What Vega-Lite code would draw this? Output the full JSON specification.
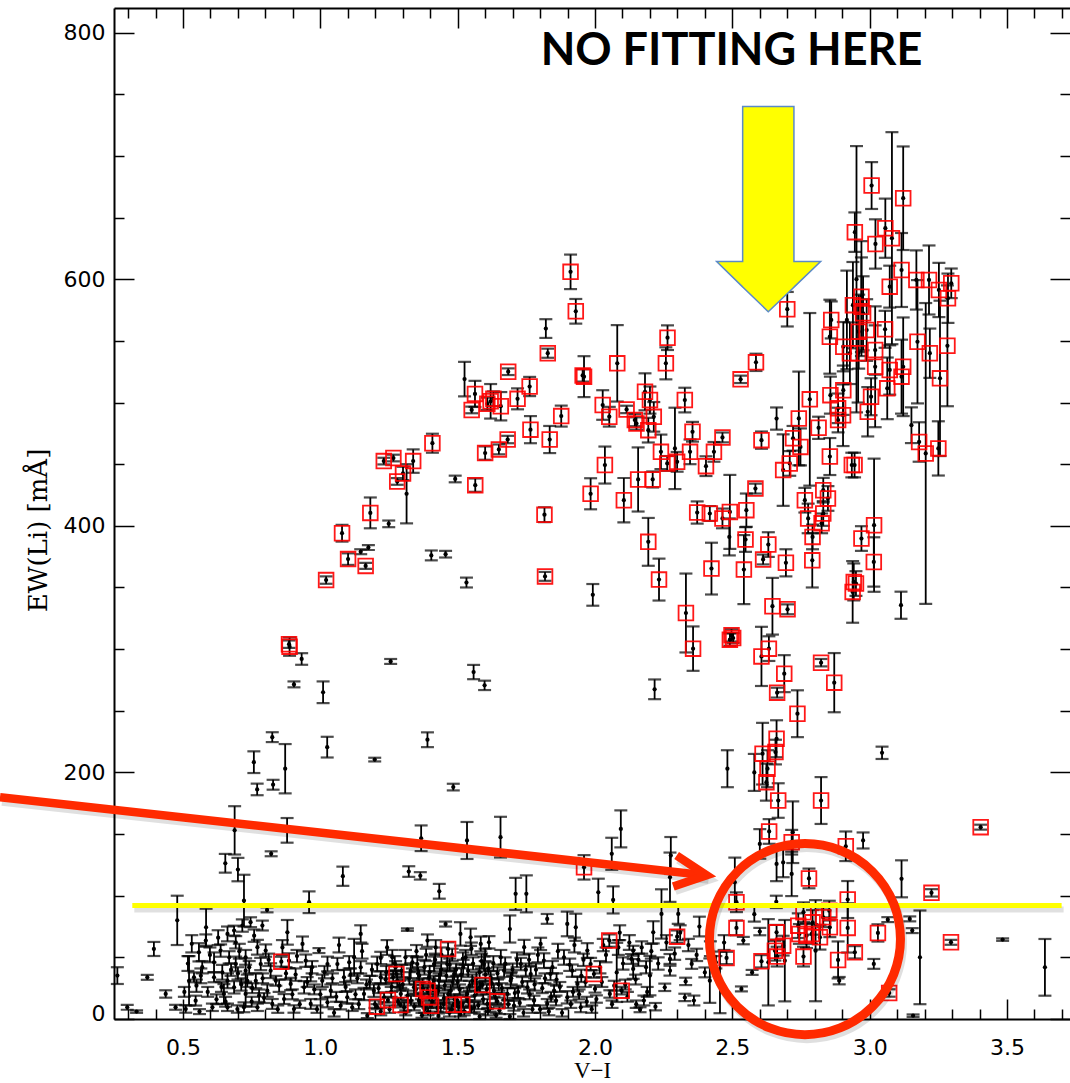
{
"$schema":"https://vega.github.io/schema/vega-lite/v6.json",
"width":956,"height":1011,"autosize":"none",
"padding":{"left":114,"top":8,"right":0,"bottom":64},
"background":"white",
"config":{"view":{"stroke":null},"axis":{"grid":false,"tickColor":"black","domainColor":"black","labelColor":"black","titleColor":"black","tickWidth":1.5,"domainWidth":2}},
"datasets":{
"pts":[
{"x":1.911,"y":606,"e":14,"r":1},{"x":1.93,"y":574,"e":10,"r":1},{"x":1.821,"y":560,"e":7.6,"r":0},{"x":1.828,"y":540,"e":3.7,"r":1},{"x":1.684,"y":525,"e":2.7,"r":1},{"x":1.525,"y":519,"e":14,"r":0},{"x":1.563,"y":507,"e":10.6,"r":1},{"x":1.551,"y":494,"e":2.7,"r":1},{"x":1.62,"y":501,"e":14,"r":1},{"x":1.608,"y":499,"e":5,"r":1},{"x":1.63,"y":503,"e":6,"r":1},{"x":1.657,"y":497,"e":11.5,"r":1},{"x":1.718,"y":503,"e":8.5,"r":1},{"x":1.762,"y":513,"e":7.8,"r":1},{"x":1.96,"y":521,"e":16.6,"r":1},{"x":1.955,"y":522,"e":5,"r":1},{"x":1.877,"y":489,"e":8.5,"r":1},{"x":1.765,"y":478,"e":11,"r":1},{"x":1.835,"y":470,"e":11,"r":1},{"x":1.682,"y":470,"e":3,"r":1},{"x":1.65,"y":462,"e":4,"r":1},{"x":1.6,"y":459,"e":5.4,"r":1},{"x":1.408,"y":467,"e":7.7,"r":1},{"x":1.338,"y":452.5,"e":9.5,"r":1},{"x":1.266,"y":455,"e":2.7,"r":1},{"x":1.231,"y":452.5,"e":2.7,"r":1},{"x":1.301,"y":442.5,"e":5.4,"r":1},{"x":1.28,"y":436,"e":2.7,"r":1},{"x":1.314,"y":426,"e":24,"r":0},{"x":1.491,"y":438,"e":2.7,"r":0},{"x":1.564,"y":433,"e":5.4,"r":1},{"x":1.182,"y":410.5,"e":12.5,"r":1},{"x":1.249,"y":401.6,"e":2.7,"r":0},{"x":1.079,"y":394,"e":6.8,"r":1},{"x":1.175,"y":382.4,"e":2,"r":0},{"x":1.147,"y":379,"e":2,"r":0},{"x":1.101,"y":373,"e":4.7,"r":1},{"x":1.165,"y":367.5,"e":2.4,"r":1},{"x":1.021,"y":356,"e":3,"r":1},{"x":1.404,"y":376,"e":4,"r":0},{"x":1.456,"y":377,"e":2.7,"r":0},{"x":1.532,"y":354,"e":4,"r":0},{"x":1.816,"y":409,"e":6,"r":1},{"x":1.818,"y":359,"e":3.6,"r":1},{"x":1.984,"y":426,"e":12.6,"r":1},{"x":1.992,"y":344,"e":8.8,"r":0},{"x":0.888,"y":302,"e":7.4,"r":1},{"x":0.886,"y":304,"e":3,"r":1},{"x":0.932,"y":292,"e":4.7,"r":0},{"x":0.904,"y":271.4,"e":2.4,"r":0},{"x":1.01,"y":265,"e":8.8,"r":0},{"x":1.256,"y":290,"e":2,"r":0},{"x":1.558,"y":281.4,"e":5.8,"r":0},{"x":1.598,"y":270.6,"e":3.8,"r":0},
{"x":0.825,"y":228.6,"e":4,"r":0},{"x":0.758,"y":208.3,"e":8.8,"r":0},{"x":0.77,"y":186.2,"e":4.7,"r":0},{"x":0.828,"y":190,"e":4,"r":0},{"x":0.872,"y":203,"e":20,"r":0},{"x":1.025,"y":220.5,"e":8.4,"r":0},{"x":1.198,"y":210.4,"e":1.5,"r":0},{"x":1.39,"y":226.5,"e":6,"r":0},{"x":1.484,"y":188.1,"e":2.7,"r":0},{"x":0.688,"y":153,"e":19.6,"r":0},{"x":0.879,"y":153,"e":10,"r":0},{"x":0.654,"y":126.3,"e":7.6,"r":0},{"x":0.7,"y":121.2,"e":9.5,"r":0},{"x":0.821,"y":134,"e":2,"r":0},{"x":1.082,"y":115.8,"e":7.8,"r":0},{"x":1.367,"y":146.6,"e":10.4,"r":0},{"x":1.534,"y":144.8,"e":15,"r":0},{"x":1.656,"y":147.5,"e":16.5,"r":0},{"x":1.96,"y":123,"e":9.9,"r":1},{"x":1.322,"y":119.6,"e":4.3,"r":0},{"x":1.364,"y":116.1,"e":3,"r":0},{"x":1.433,"y":103.6,"e":6,"r":0},{"x":0.722,"y":96,"e":21,"r":0},
{"x":0.479,"y":80,"e":20,"r":0},{"x":0.584,"y":74.4,"e":15,"r":0},{"x":0.394,"y":56.8,"e":5.7,"r":0},{"x":0.37,"y":33.8,"e":2,"r":0},{"x":0.437,"y":20.3,"e":3,"r":0},{"x":0.331,"y":6,"e":1,"r":0},{"x":0.959,"y":94.7,"e":8.8,"r":0},{"x":0.806,"y":88.5,"e":2,"r":0},{"x":1.711,"y":101.5,"e":13,"r":0},{"x":1.75,"y":101.5,"e":15,"r":0},{"x":1.826,"y":81.2,"e":4,"r":0},{"x":1.69,"y":73,"e":11,"r":0},{"x":1.93,"y":74.4,"e":11,"r":0},{"x":1.317,"y":72.5,"e":1,"r":0},{"x":1.456,"y":77,"e":2,"r":0},{"x":1.51,"y":69,"e":9.5,"r":0},
{"x":0.261,"y":35.2,"e":6.8,"r":0},{"x":0.297,"y":9.5,"e":2,"r":0},{"x":0.473,"y":9.5,"e":2,"r":0},{"x":0.522,"y":31,"e":20,"r":0},{"x":0.54,"y":33.8,"e":4,"r":0},{"x":0.51,"y":8.1,"e":3,"r":0},{"x":0.546,"y":14.9,"e":4,"r":0},{"x":0.558,"y":54.1,"e":7.4,"r":0},{"x":0.583,"y":63.6,"e":5,"r":0},{"x":0.613,"y":46,"e":8,"r":0},{"x":0.613,"y":33.8,"e":4,"r":0},{"x":0.607,"y":9.5,"e":3,"r":0},{"x":0.637,"y":55.5,"e":5,"r":0},{"x":0.643,"y":37.9,"e":6,"r":0},{"x":0.649,"y":20.3,"e":8,"r":0},{"x":0.662,"y":69,"e":6,"r":0},{"x":0.668,"y":50,"e":5,"r":0},{"x":0.662,"y":31,"e":6,"r":0},{"x":0.662,"y":9.5,"e":3,"r":0},{"x":0.686,"y":71.7,"e":4,"r":0},{"x":0.692,"y":62.2,"e":5,"r":0},{"x":0.692,"y":44.6,"e":6,"r":0},{"x":0.686,"y":25.7,"e":5,"r":0},{"x":0.698,"y":8.1,"e":3,"r":0},{"x":0.716,"y":75.8,"e":5,"r":0},{"x":0.728,"y":50,"e":6,"r":0},{"x":0.728,"y":39.2,"e":10,"r":0},{"x":0.734,"y":31,"e":5,"r":0},{"x":0.728,"y":20.3,"e":10,"r":0},{"x":0.722,"y":9.5,"e":4,"r":0},{"x":0.746,"y":78.5,"e":4,"r":0},{"x":0.759,"y":67.6,"e":5,"r":0},{"x":0.771,"y":58.2,"e":6,"r":0},{"x":0.783,"y":44.6,"e":5,"r":0},{"x":0.765,"y":31,"e":6,"r":0},{"x":0.777,"y":18.9,"e":5,"r":0},{"x":0.771,"y":9.5,"e":3,"r":0},{"x":0.789,"y":75.8,"e":4,"r":0},{"x":0.801,"y":55.5,"e":5,"r":0},{"x":0.819,"y":39.2,"e":6,"r":0},{"x":0.807,"y":23,"e":5,"r":0},{"x":0.825,"y":12.2,"e":4,"r":0},{"x":0.88,"y":70.3,"e":10,"r":0},{"x":0.886,"y":47.3,"e":6,"r":0},{"x":0.892,"y":28.4,"e":5,"r":0},{"x":0.868,"y":16.2,"e":4,"r":0},{"x":0.904,"y":8.1,"e":3,"r":0},{"x":0.935,"y":60.9,"e":6,"r":0},{"x":0.947,"y":47.3,"e":5,"r":0},{"x":0.965,"y":36.5,"e":6,"r":0},{"x":0.941,"y":25.7,"e":5,"r":0},{"x":0.965,"y":12.2,"e":4,"r":0},{"x":0.995,"y":55.5,"e":2,"r":0},{"x":1.026,"y":44.6,"e":6,"r":0},{"x":1.007,"y":31,"e":5,"r":0},{"x":1.026,"y":13.5,"e":4,"r":0},{"x":1.038,"y":23,"e":5,"r":0},{"x":1.062,"y":44.6,"e":5,"r":0},{"x":1.086,"y":33.8,"e":6,"r":0},{"x":1.098,"y":17.6,"e":5,"r":0},{"x":1.074,"y":10.8,"e":3,"r":0},{"x":1.116,"y":9.5,"e":3,"r":0},{"x":1.123,"y":50,"e":15,"r":0},{"x":1.147,"y":69,"e":7,"r":0},{"x":1.147,"y":41.9,"e":5,"r":0},{"x":1.159,"y":20.3,"e":5,"r":0},{"x":1.171,"y":2.7,"e":2,"r":0},{"x":1.207,"y":44.6,"e":6,"r":0},{"x":1.22,"y":33.8,"e":5,"r":0},{"x":1.195,"y":23,"e":5,"r":0},{"x":1.232,"y":17.6,"e":4,"r":0},{"x":1.22,"y":49.5,"e":5,"r":0},{"x":1.262,"y":50,"e":6,"r":0},{"x":1.28,"y":31,"e":5,"r":0},{"x":1.293,"y":20.3,"e":5,"r":0},{"x":1.305,"y":9.5,"e":4,"r":0},{"x":1.274,"y":41.9,"e":5,"r":0},{"x":1.329,"y":39.2,"e":6,"r":0},{"x":1.341,"y":25.7,"e":5,"r":0},{"x":1.353,"y":44.6,"e":6,"r":0},{"x":1.359,"y":14.9,"e":4,"r":0},{"x":1.39,"y":63.6,"e":5,"r":0},{"x":1.414,"y":44.6,"e":6,"r":0},{"x":1.396,"y":33.8,"e":5,"r":0},{"x":1.432,"y":31,"e":6,"r":0},{"x":1.42,"y":20.3,"e":5,"r":0},{"x":1.438,"y":9.5,"e":4,"r":0},{"x":1.462,"y":44.6,"e":6,"r":0},{"x":1.487,"y":36.5,"e":5,"r":0},{"x":1.475,"y":23,"e":5,"r":0},{"x":1.499,"y":14.9,"e":4,"r":0},{"x":1.547,"y":66.3,"e":7,"r":0},{"x":1.529,"y":50,"e":6,"r":0},{"x":1.553,"y":31,"e":5,"r":0},{"x":1.535,"y":20.3,"e":5,"r":0},{"x":1.56,"y":9.5,"e":4,"r":0},{"x":1.584,"y":60.9,"e":6,"r":0},{"x":1.614,"y":62.2,"e":5,"r":0},{"x":1.596,"y":44.6,"e":6,"r":0},{"x":1.62,"y":33.8,"e":5,"r":0},{"x":1.632,"y":23,"e":5,"r":0},{"x":1.608,"y":12.2,"e":4,"r":0},{"x":1.657,"y":50,"e":6,"r":0},{"x":1.669,"y":39.2,"e":5,"r":0},{"x":1.693,"y":31,"e":6,"r":0},{"x":1.681,"y":20.3,"e":5,"r":0},{"x":1.705,"y":10.8,"e":4,"r":0},{"x":1.742,"y":58.2,"e":6,"r":0},{"x":1.73,"y":44.6,"e":5,"r":0},{"x":1.766,"y":36.5,"e":6,"r":0},{"x":1.754,"y":25.7,"e":5,"r":0},{"x":1.778,"y":14.9,"e":4,"r":0},{"x":1.802,"y":60.9,"e":5,"r":0},{"x":1.814,"y":47.3,"e":6,"r":0},{"x":1.838,"y":36.5,"e":5,"r":0},{"x":1.851,"y":23,"e":5,"r":0},{"x":1.826,"y":12.2,"e":4,"r":0},{"x":1.899,"y":77.1,"e":10,"r":0},{"x":1.887,"y":50,"e":6,"r":0},{"x":1.917,"y":39.2,"e":5,"r":0},{"x":1.936,"y":28.4,"e":6,"r":0},{"x":1.899,"y":17.6,"e":5,"r":0},{"x":1.948,"y":9.5,"e":4,"r":0},{"x":1.972,"y":55.5,"e":6,"r":0},{"x":1.984,"y":44.6,"e":5,"r":0},
{"x":1.3,"y":28,"e":4,"r":0},{"x":1.33,"y":15,"e":4,"r":0},{"x":1.36,"y":35,"e":5,"r":0},{"x":1.38,"y":8,"e":3,"r":0},{"x":1.41,"y":27,"e":5,"r":0},{"x":1.44,"y":40,"e":5,"r":0},{"x":1.45,"y":17,"e":4,"r":0},{"x":1.47,"y":5,"e":3,"r":0},{"x":1.5,"y":30,"e":5,"r":0},{"x":1.52,"y":42,"e":6,"r":0},{"x":1.54,"y":14,"e":4,"r":0},{"x":1.57,"y":24,"e":5,"r":0},{"x":1.58,"y":38,"e":5,"r":0},{"x":1.61,"y":6,"e":3,"r":0},{"x":1.63,"y":45,"e":6,"r":0},{"x":1.65,"y":28,"e":5,"r":0},{"x":1.67,"y":16,"e":4,"r":0},{"x":1.7,"y":40,"e":5,"r":0},{"x":1.72,"y":22,"e":5,"r":0},{"x":1.74,"y":5,"e":3,"r":0},{"x":1.26,"y":26,"e":4,"r":0},{"x":1.24,"y":38,"e":5,"r":0},{"x":1.22,"y":6,"e":3,"r":0},{"x":1.18,"y":30,"e":5,"r":0},{"x":1.14,"y":12,"e":4,"r":0},{"x":1.11,"y":36,"e":5,"r":0},{"x":1.05,"y":5,"e":3,"r":0},{"x":1.0,"y":20,"e":4,"r":0},{"x":0.97,"y":42,"e":5,"r":0},{"x":0.91,"y":36,"e":5,"r":0},{"x":0.85,"y":27,"e":5,"r":0},{"x":0.79,"y":33,"e":4,"r":0},{"x":0.75,"y":14,"e":4,"r":0},{"x":0.7,"y":37,"e":5,"r":0},{"x":0.64,"y":26,"e":4,"r":0},{"x":0.59,"y":22,"e":4,"r":0},{"x":0.57,"y":42,"e":5,"r":0},{"x":0.56,"y":6,"e":2,"r":0},{"x":1.35,"y":55,"e":5,"r":0},{"x":1.42,"y":58,"e":6,"r":0},{"x":1.48,"y":52,"e":5,"r":0},{"x":1.55,"y":57,"e":5,"r":0},{"x":1.6,"y":52,"e":5,"r":0},{"x":1.31,"y":50,"e":6,"r":0},{"x":1.37,"y":3,"e":2,"r":0},{"x":1.43,"y":2.5,"e":2,"r":0},{"x":1.51,"y":4,"e":2,"r":0},{"x":1.58,"y":2,"e":2,"r":0},{"x":1.64,"y":3,"e":2,"r":0},{"x":1.69,"y":2,"e":2,"r":0},{"x":1.78,"y":28,"e":5,"r":0},{"x":1.8,"y":8,"e":3,"r":0},{"x":1.86,"y":32,"e":5,"r":0},{"x":1.88,"y":5,"e":3,"r":0},{"x":1.92,"y":22,"e":4,"r":0},{"x":1.95,"y":35,"e":5,"r":0},{"x":1.97,"y":14,"e":4,"r":0},{"x":1.84,"y":18,"e":4,"r":0},{"x":1.76,"y":48,"e":5,"r":0},
{"x":1.252,"y":8,"e":3,"r":0},{"x":1.258,"y":22,"e":4,"r":0},{"x":1.265,"y":34,"e":5,"r":0},{"x":1.271,"y":45,"e":6,"r":0},{"x":1.283,"y":14,"e":3,"r":0},{"x":1.289,"y":27,"e":4,"r":0},{"x":1.296,"y":39,"e":5,"r":0},{"x":1.311,"y":5,"e":2,"r":0},{"x":1.318,"y":19,"e":4,"r":0},{"x":1.324,"y":33,"e":5,"r":0},{"x":1.335,"y":46,"e":5,"r":0},{"x":1.342,"y":10,"e":3,"r":0},{"x":1.348,"y":24,"e":4,"r":0},{"x":1.356,"y":37,"e":5,"r":0},{"x":1.368,"y":13,"e":3,"r":0},{"x":1.372,"y":29,"e":4,"r":0},{"x":1.379,"y":42,"e":6,"r":0},{"x":1.385,"y":52,"e":5,"r":0},{"x":1.392,"y":6,"e":3,"r":0},{"x":1.398,"y":38,"e":5,"r":0},{"x":1.407,"y":14,"e":4,"r":0},{"x":1.413,"y":31,"e":4,"r":0},{"x":1.418,"y":48,"e":5,"r":0},{"x":1.426,"y":9,"e":3,"r":0},{"x":1.429,"y":23,"e":4,"r":0},{"x":1.436,"y":36,"e":5,"r":0},{"x":1.441,"y":52,"e":6,"r":0},{"x":1.449,"y":12,"e":3,"r":0},{"x":1.453,"y":27,"e":4,"r":0},{"x":1.459,"y":35,"e":5,"r":0},{"x":1.466,"y":20,"e":4,"r":0},{"x":1.471,"y":44,"e":5,"r":0},{"x":1.478,"y":8,"e":3,"r":0},{"x":1.482,"y":30,"e":4,"r":0},{"x":1.489,"y":16,"e":4,"r":0},{"x":1.494,"y":40,"e":5,"r":0},{"x":1.503,"y":10,"e":3,"r":0},{"x":1.507,"y":24,"e":4,"r":0},{"x":1.513,"y":36,"e":5,"r":0},{"x":1.519,"y":49,"e":5,"r":0},{"x":1.524,"y":6,"e":3,"r":0},{"x":1.531,"y":18,"e":4,"r":0},{"x":1.538,"y":39,"e":5,"r":0},{"x":1.543,"y":27,"e":4,"r":0},{"x":1.549,"y":8,"e":3,"r":0},{"x":1.556,"y":45,"e":5,"r":0},{"x":1.562,"y":19,"e":4,"r":0},{"x":1.568,"y":33,"e":5,"r":0},{"x":1.575,"y":11,"e":3,"r":0},{"x":1.581,"y":26,"e":4,"r":0},{"x":1.587,"y":47,"e":6,"r":0},{"x":1.593,"y":16,"e":4,"r":0},{"x":1.601,"y":36,"e":5,"r":0},{"x":1.606,"y":24,"e":4,"r":0},{"x":1.612,"y":41,"e":5,"r":0},{"x":1.618,"y":9,"e":3,"r":0},{"x":1.624,"y":29,"e":4,"r":0},{"x":1.638,"y":17,"e":4,"r":0},{"x":1.645,"y":37,"e":5,"r":0},{"x":1.652,"y":7,"e":3,"r":0},{"x":1.661,"y":25,"e":4,"r":0},{"x":1.673,"y":45,"e":5,"r":0},{"x":1.684,"y":12,"e":3,"r":0},{"x":1.695,"y":33,"e":5,"r":0},{"x":1.708,"y":21,"e":4,"r":0},{"x":1.716,"y":48,"e":6,"r":0},{"x":1.726,"y":13,"e":3,"r":0},{"x":1.735,"y":30,"e":4,"r":0},{"x":1.748,"y":40,"e":5,"r":0},{"x":1.762,"y":20,"e":4,"r":0},{"x":1.772,"y":8,"e":3,"r":0},
{"x":0.505,"y":22,"e":4,"r":0},{"x":0.518,"y":45,"e":6,"r":0},{"x":0.532,"y":61,"e":7,"r":0},{"x":0.549,"y":27,"e":5,"r":0},{"x":0.565,"y":35,"e":6,"r":0},{"x":0.598,"y":52,"e":6,"r":0},{"x":0.622,"y":16,"e":4,"r":0},{"x":0.628,"y":66,"e":6,"r":0},{"x":0.655,"y":14,"e":4,"r":0},{"x":0.675,"y":40,"e":5,"r":0},{"x":0.705,"y":55,"e":6,"r":0},{"x":0.712,"y":28,"e":5,"r":0},{"x":0.741,"y":42,"e":5,"r":0},{"x":0.752,"y":25,"e":4,"r":0},{"x":0.795,"y":17,"e":4,"r":0},{"x":0.812,"y":48,"e":5,"r":0},{"x":0.838,"y":31,"e":4,"r":0},{"x":0.845,"y":8,"e":3,"r":0},{"x":0.862,"y":58,"e":6,"r":0},{"x":0.875,"y":37,"e":5,"r":0},{"x":0.898,"y":20,"e":4,"r":0},{"x":0.915,"y":51,"e":5,"r":0},{"x":0.925,"y":12,"e":3,"r":0},{"x":0.952,"y":30,"e":4,"r":0},{"x":0.978,"y":24,"e":4,"r":0},{"x":0.988,"y":8,"e":3,"r":0},{"x":1.015,"y":38,"e":5,"r":0},{"x":1.044,"y":33,"e":4,"r":0},{"x":1.058,"y":18,"e":4,"r":0},{"x":1.068,"y":60,"e":6,"r":0},{"x":1.092,"y":26,"e":4,"r":0},{"x":1.105,"y":46,"e":5,"r":0},{"x":1.128,"y":20,"e":4,"r":0},{"x":1.135,"y":33,"e":4,"r":0},{"x":1.152,"y":55,"e":6,"r":0},{"x":1.168,"y":28,"e":4,"r":0},{"x":1.188,"y":40,"e":5,"r":0},{"x":1.199,"y":12,"e":3,"r":0},{"x":1.212,"y":25,"e":4,"r":0},{"x":1.238,"y":32,"e":4,"r":0},{"x":1.243,"y":58,"e":6,"r":0},
{"x":1.785,"y":40,"e":5,"r":0},{"x":1.792,"y":52,"e":6,"r":0},{"x":1.808,"y":25,"e":4,"r":0},{"x":1.818,"y":33,"e":4,"r":0},{"x":1.832,"y":6,"e":3,"r":0},{"x":1.845,"y":42,"e":5,"r":0},{"x":1.858,"y":15,"e":4,"r":0},{"x":1.865,"y":55,"e":6,"r":0},{"x":1.872,"y":26,"e":4,"r":0},{"x":1.908,"y":44,"e":5,"r":0},{"x":1.912,"y":12,"e":3,"r":0},{"x":1.925,"y":60,"e":6,"r":0},{"x":1.942,"y":20,"e":4,"r":0},{"x":1.958,"y":48,"e":5,"r":0},{"x":1.965,"y":30,"e":4,"r":0},{"x":1.988,"y":8,"e":3,"r":0},{"x":2.018,"y":42,"e":5,"r":0},{"x":2.025,"y":30,"e":4,"r":0},{"x":2.04,"y":52,"e":6,"r":0},{"x":2.062,"y":12,"e":3,"r":0},{"x":2.07,"y":27,"e":4,"r":0},{"x":2.085,"y":58,"e":6,"r":0},{"x":2.102,"y":45,"e":5,"r":0},{"x":2.118,"y":18,"e":4,"r":0},{"x":2.125,"y":62,"e":6,"r":0},{"x":2.148,"y":32,"e":4,"r":0},{"x":2.158,"y":48,"e":5,"r":0},{"x":2.178,"y":15,"e":4,"r":0},{"x":2.186,"y":42,"e":5,"r":0},{"x":2.205,"y":55,"e":6,"r":0},
{"x":2.066,"y":96.6,"e":11,"r":0},{"x":2.012,"y":102.8,"e":11,"r":0},{"x":2.273,"y":115,"e":20,"r":0},{"x":2.0,"y":24.4,"e":3,"r":0},{"x":2.054,"y":20.3,"e":3,"r":0},{"x":2.005,"y":16.2,"e":3,"r":0},{"x":2.164,"y":7.5,"e":2,"r":0},{"x":2.33,"y":30.5,"e":3,"r":0},{"x":2.327,"y":17.5,"e":3,"r":0},{"x":2.418,"y":31.1,"e":18,"r":0},{"x":2.455,"y":29.7,"e":25,"r":0},{"x":2.2,"y":35.2,"e":16,"r":0},{"x":2.139,"y":40.6,"e":8,"r":0},{"x":2.079,"y":37.8,"e":24,"r":0},{"x":2.133,"y":48.7,"e":4,"r":0},{"x":2.212,"y":70.3,"e":9,"r":0},{"x":2.242,"y":85.2,"e":20,"r":0},{"x":2.303,"y":85.2,"e":8,"r":0},{"x":2.139,"y":55.4,"e":4,"r":0},{"x":2.273,"y":48.7,"e":4,"r":0},{"x":2.273,"y":39.2,"e":4,"r":0},{"x":2.352,"y":44.7,"e":4,"r":0},{"x":2.4,"y":37.8,"e":4,"r":0},{"x":2.254,"y":25.7,"e":3,"r":0},{"x":2.03,"y":60,"e":5,"r":0},{"x":2.09,"y":70,"e":6,"r":0},{"x":2.11,"y":28,"e":4,"r":0},{"x":2.17,"y":58,"e":5,"r":0},{"x":2.19,"y":22,"e":4,"r":0},{"x":2.23,"y":45,"e":5,"r":0},{"x":2.26,"y":62,"e":6,"r":0},{"x":2.29,"y":53,"e":5,"r":0},{"x":2.31,"y":70,"e":6,"r":0},{"x":2.34,"y":60,"e":5,"r":0},{"x":2.37,"y":52,"e":5,"r":0},{"x":2.38,"y":75,"e":8,"r":0},{"x":2.42,"y":57,"e":6,"r":0},{"x":2.44,"y":46,"e":5,"r":0},{"x":2.47,"y":62,"e":6,"r":0},{"x":2.15,"y":12,"e":3,"r":0},{"x":2.22,"y":10,"e":3,"r":0},{"x":2.36,"y":15,"e":4,"r":0},
{"x":2.509,"y":110.9,"e":20,"r":0},{"x":3.183,"y":50,"e":38,"r":0},{"x":3.638,"y":41.9,"e":23,"r":0},{"x":3.484,"y":64.4,"e":1,"r":0},{"x":3.146,"y":81.2,"e":2,"r":0},{"x":3.155,"y":71.7,"e":2,"r":0},{"x":3.066,"y":80.6,"e":2,"r":0},{"x":3.015,"y":44.7,"e":4,"r":0},{"x":3.158,"y":2.7,"e":1,"r":0},{"x":2.889,"y":31.1,"e":3,"r":0},{"x":2.631,"y":46,"e":35,"r":0},{"x":2.691,"y":47.3,"e":33,"r":0},{"x":2.803,"y":55.4,"e":41,"r":0},{"x":2.533,"y":24.4,"e":2,"r":0},{"x":2.572,"y":37.8,"e":2,"r":0},{"x":2.6,"y":70.9,"e":3,"r":0},{"x":2.54,"y":63.6,"e":3,"r":0},{"x":2.661,"y":125.8,"e":14,"r":0},{"x":2.716,"y":117.7,"e":18,"r":0},{"x":2.6,"y":142,"e":12,"r":0},{"x":2.685,"y":127,"e":12,"r":0},{"x":2.72,"y":151.5,"e":25,"r":0},{"x":2.58,"y":85,"e":6,"r":0},{"x":2.66,"y":95,"e":5,"r":0},
{"x":2.515,"y":94.7,"e":8,"r":1},{"x":2.92,"y":96.9,"e":15,"r":1},{"x":3.225,"y":102.3,"e":3,"r":1},{"x":2.515,"y":73.9,"e":6,"r":1},{"x":2.661,"y":70.3,"e":6,"r":1},{"x":2.74,"y":75.7,"e":10,"r":1},{"x":2.77,"y":67.6,"e":10,"r":1},{"x":2.792,"y":78.4,"e":10,"r":1},{"x":2.819,"y":66.3,"e":10,"r":1},{"x":2.831,"y":82.5,"e":8,"r":1},{"x":2.853,"y":87.9,"e":8,"r":1},{"x":2.855,"y":74.4,"e":8,"r":1},{"x":2.92,"y":73.9,"e":20,"r":1},{"x":3.03,"y":69.8,"e":7,"r":1},{"x":2.759,"y":86.6,"e":8,"r":1},{"x":2.744,"y":69,"e":8,"r":1},{"x":2.789,"y":69,"e":8,"r":1},{"x":2.685,"y":59.5,"e":8,"r":1},{"x":2.655,"y":55.4,"e":8,"r":1},{"x":2.606,"y":46.8,"e":5,"r":1},{"x":2.479,"y":49.5,"e":5,"r":1},{"x":2.663,"y":50.6,"e":8,"r":1},{"x":2.759,"y":50.6,"e":8,"r":1},{"x":2.885,"y":47.9,"e":15,"r":1},{"x":2.946,"y":54.1,"e":5,"r":1},{"x":3.071,"y":21.1,"e":3,"r":1},{"x":3.296,"y":62.2,"e":2,"r":1},{"x":2.299,"y":66.8,"e":5,"r":1},{"x":2.052,"y":63.6,"e":5,"r":1},{"x":2.097,"y":23,"e":3,"r":1},{"x":2.779,"y":114,"e":8,"r":1},
{"x":1.465,"y":56.8,"e":5.4,"r":1},{"x":0.858,"y":46.5,"e":4,"r":1},{"x":1.277,"y":36.5,"e":3,"r":1},{"x":1.374,"y":24.4,"e":3,"r":1},{"x":1.39,"y":23,"e":3,"r":1},{"x":1.396,"y":17.5,"e":3,"r":1},{"x":1.403,"y":10.8,"e":2,"r":1},{"x":1.206,"y":10,"e":2,"r":1},{"x":1.246,"y":15.4,"e":2,"r":1},{"x":1.292,"y":11.4,"e":2,"r":1},{"x":1.59,"y":27.6,"e":3,"r":1},{"x":1.644,"y":14.3,"e":3,"r":1},{"x":1.486,"y":11.6,"e":2,"r":1},{"x":1.517,"y":11.6,"e":2,"r":1},{"x":1.996,"y":36.5,"e":3,"r":1},
{"x":2.194,"y":387,"e":19.4,"r":1},{"x":2.233,"y":356.4,"e":17,"r":1},{"x":2.331,"y":329.3,"e":32,"r":1},{"x":2.357,"y":300.4,"e":18,"r":1},{"x":2.424,"y":365.3,"e":21,"r":1},{"x":2.542,"y":364.5,"e":28,"r":1},{"x":2.548,"y":388.9,"e":10,"r":1},{"x":2.631,"y":384.8,"e":10,"r":1},{"x":2.612,"y":372.7,"e":4,"r":1},{"x":2.695,"y":370,"e":11,"r":1},{"x":2.792,"y":391,"e":10,"r":1},{"x":2.791,"y":372,"e":22,"r":1},{"x":2.825,"y":402,"e":8,"r":1},{"x":2.97,"y":389.7,"e":10,"r":1},{"x":3.015,"y":370.7,"e":20,"r":1},{"x":3.016,"y":400.5,"e":54,"r":1},{"x":2.942,"y":354.5,"e":15,"r":1},{"x":2.95,"y":353.2,"e":10,"r":1},{"x":2.938,"y":346.4,"e":25,"r":1},{"x":2.646,"y":334.8,"e":23,"r":1},{"x":2.701,"y":332.3,"e":4,"r":1},{"x":2.497,"y":311.2,"e":5,"r":1},{"x":2.491,"y":307.7,"e":5,"r":1},{"x":2.503,"y":309,"e":4,"r":1},{"x":2.633,"y":300.4,"e":10,"r":1},{"x":2.606,"y":294.1,"e":24,"r":1},{"x":2.689,"y":280.1,"e":15,"r":1},{"x":2.663,"y":264.7,"e":4,"r":1},{"x":2.823,"y":289,"e":3,"r":1},{"x":2.871,"y":272.8,"e":24,"r":1},{"x":2.737,"y":247.6,"e":19,"r":1},{"x":2.661,"y":227.3,"e":15,"r":1},{"x":2.657,"y":216.5,"e":10,"r":1},{"x":2.61,"y":215.2,"e":25,"r":1},{"x":2.628,"y":203,"e":15,"r":1},{"x":2.624,"y":192.1,"e":15,"r":1},{"x":2.667,"y":177.2,"e":14,"r":1},{"x":2.823,"y":177.2,"e":19,"r":1},{"x":3.404,"y":155.6,"e":2,"r":1},{"x":2.634,"y":152.1,"e":10,"r":1},{"x":2.716,"y":143.4,"e":10,"r":1},{"x":2.913,"y":140.1,"e":12,"r":1},
{"x":2.489,"y":391,"e":15,"r":0},{"x":3.114,"y":335.6,"e":11,"r":0},{"x":2.217,"y":267.4,"e":8,"r":0},{"x":2.482,"y":203,"e":15,"r":0},{"x":3.045,"y":215.9,"e":5,"r":0},{"x":2.976,"y":144.8,"e":6.5,"r":0},{"x":2.094,"y":154.2,"e":15,"r":0},{"x":2.061,"y":134,"e":13,"r":0},{"x":2.276,"y":132.6,"e":15,"r":0},{"x":3.116,"y":113.7,"e":15,"r":0},{"x":2.58,"y":200,"e":15,"r":0},
{"x":3.007,"y":676,"e":19,"r":1},{"x":3.122,"y":665.7,"e":42,"r":1},{"x":2.946,"y":638.2,"e":16,"r":1},{"x":3.081,"y":633.3,"e":86,"r":1},{"x":3.057,"y":641.4,"e":24,"r":1},{"x":3.021,"y":628.6,"e":20,"r":1},{"x":3.116,"y":607.5,"e":30,"r":1},{"x":3.073,"y":594,"e":17,"r":1},{"x":3.17,"y":599.4,"e":24,"r":1},{"x":3.216,"y":599.4,"e":28,"r":1},{"x":3.252,"y":591.3,"e":22,"r":1},{"x":3.297,"y":596.7,"e":12,"r":1},{"x":3.285,"y":584.6,"e":20,"r":1},{"x":3.283,"y":546,"e":49,"r":1},{"x":3.256,"y":519.6,"e":63,"r":1},{"x":3.25,"y":462.8,"e":22,"r":1},{"x":3.204,"y":458.7,"e":122,"r":1},{"x":3.18,"y":468,"e":16,"r":1},{"x":3.174,"y":549.3,"e":50,"r":1},{"x":3.219,"y":540,"e":20,"r":1},{"x":3.122,"y":529,"e":40,"r":1},{"x":3.073,"y":526.4,"e":20,"r":1},{"x":3.064,"y":511.5,"e":25,"r":1},{"x":3.116,"y":521,"e":30,"r":1},{"x":3.02,"y":529,"e":49,"r":1},{"x":2.993,"y":492.5,"e":20,"r":1},{"x":3.005,"y":504.7,"e":15,"r":1},{"x":2.97,"y":577.7,"e":40,"r":1},{"x":2.939,"y":579,"e":35,"r":1},{"x":2.976,"y":572.4,"e":30,"r":1},{"x":2.97,"y":585.9,"e":45,"r":1},{"x":2.96,"y":557.5,"e":30,"r":1},{"x":2.989,"y":558.8,"e":25,"r":1},{"x":3.056,"y":559.4,"e":15,"r":1},{"x":2.958,"y":540,"e":40,"r":1},{"x":2.928,"y":540,"e":25,"r":1},{"x":3.02,"y":542.6,"e":20,"r":1},{"x":2.904,"y":545.3,"e":20,"r":1},{"x":2.86,"y":567,"e":15,"r":1},{"x":2.855,"y":553.4,"e":30,"r":1},{"x":2.857,"y":506,"e":15,"r":1},{"x":2.904,"y":510,"e":20,"r":1},{"x":2.885,"y":495.3,"e":12,"r":1},{"x":2.903,"y":489.7,"e":25,"r":1},{"x":2.885,"y":485.8,"e":10,"r":1},{"x":2.855,"y":456.2,"e":15,"r":1},{"x":2.935,"y":449.3,"e":10,"r":1},{"x":2.945,"y":449.3,"e":10,"r":1},{"x":2.831,"y":428.9,"e":10,"r":1},{"x":2.848,"y":422.2,"e":10,"r":1},{"x":2.831,"y":410,"e":10,"r":1},{"x":2.776,"y":406,"e":12,"r":1},{"x":2.764,"y":420.8,"e":10,"r":1},{"x":2.782,"y":502.6,"e":70,"r":1},{"x":2.814,"y":479.5,"e":9,"r":1},{"x":2.742,"y":487.1,"e":38,"r":1},{"x":2.748,"y":464,"e":15,"r":1},{"x":2.721,"y":471,"e":10,"r":1},{"x":2.685,"y":445.2,"e":29,"r":1},{"x":2.709,"y":450.6,"e":10,"r":1},{"x":2.7,"y":575.7,"e":14,"r":1},{"x":2.606,"y":469.5,"e":7,"r":1},{"x":2.586,"y":532.6,"e":7,"r":1},{"x":2.53,"y":518.8,"e":3,"r":1},{"x":2.584,"y":430.2,"e":4,"r":1},{"x":2.551,"y":412.7,"e":13.5,"r":1},{"x":2.491,"y":411.3,"e":30,"r":1},{"x":2.464,"y":406,"e":8,"r":1},{"x":2.418,"y":410,"e":6,"r":1},{"x":2.372,"y":410.8,"e":9,"r":1},{"x":2.264,"y":552.6,"e":10,"r":1},{"x":2.258,"y":531.8,"e":13,"r":1},{"x":2.081,"y":531.8,"e":31,"r":1},{"x":2.028,"y":498,"e":12,"r":1},{"x":2.052,"y":488.5,"e":8,"r":1},{"x":2.115,"y":494.4,"e":3,"r":1},{"x":2.145,"y":485.8,"e":5,"r":1},{"x":2.151,"y":483,"e":5,"r":1},{"x":2.182,"y":508.7,"e":15,"r":1},{"x":2.2,"y":502,"e":11,"r":1},{"x":2.214,"y":488.4,"e":12,"r":1},{"x":2.194,"y":477.6,"e":10,"r":1},{"x":2.327,"y":502,"e":10,"r":1},{"x":2.24,"y":460,"e":14,"r":1},{"x":2.263,"y":450.6,"e":6,"r":1},{"x":2.299,"y":451.9,"e":8,"r":1},{"x":2.346,"y":460,"e":10,"r":1},{"x":2.355,"y":476.3,"e":8,"r":1},{"x":2.433,"y":460,"e":8,"r":1},{"x":2.464,"y":471.7,"e":4,"r":1},{"x":2.404,"y":448.4,"e":8,"r":1},{"x":2.036,"y":449.3,"e":15,"r":1},{"x":2.105,"y":420.8,"e":18,"r":1},{"x":2.157,"y":437.6,"e":26,"r":1},{"x":2.21,"y":437.6,"e":6.5,"r":1},
{"x":2.952,"y":600,"e":108,"r":0},{"x":2.917,"y":567,"e":40,"r":0},{"x":2.661,"y":487,"e":9,"r":0},{"x":2.291,"y":462.8,"e":33,"r":0},{"x":3.152,"y":481.6,"e":14.5,"r":0}
],
"lines":[
{"g":"yl","k":1,"x":0.3154,"y":92},{"g":"yl","k":2,"x":3.6988,"y":92},
{"g":"shaft","k":1,"x":-0.1662,"y":179.9},{"g":"shaft","k":2,"x":2.4064,"y":116.5},
{"g":"head","k":1,"x":2.2972,"y":132.6},{"g":"head","k":2,"x":2.4064,"y":116.5},{"g":"head","k":3,"x":2.2849,"y":107.4}
],
"arrow":[
{"x":2.4428,"y":614.3,"y2":614.3},{"x":2.5375,"y":614.3,"y2":593.8},{"x":2.5376,"y":740.1,"y2":593.8},{"x":2.6307,"y":740.1,"y2":573.7},{"x":2.7242,"y":740.1,"y2":593.6},{"x":2.7243,"y":614.3,"y2":593.6},{"x":2.8214,"y":614.3,"y2":614.3}
],
"ring":[{"x":2.7643,"y":64.8}],
"note":[{"x":2.497,"y":774,"t":"NO FITTING HERE"}]
},
"resolve":{"axis":{"x":"independent","y":"independent"}},
"layer":[
{"data":{"name":"pts"},
 "mark":{"type":"errorbar","ticks":{"size":13,"thickness":2.2},"rule":{"strokeWidth":1.8},"color":"black"},
 "encoding":{
  "x":{"field":"x","type":"quantitative","scale":{"domain":[0.2488,3.7293],"nice":false,"zero":false},"axis":null},
  "y":{"field":"y","type":"quantitative","scale":{"domain":[0,820],"nice":false,"zero":false},"axis":null},
  "yError":{"field":"e"}}},
{"data":{"name":"pts"},
 "mark":{"type":"point","shape":"circle","filled":true,"size":18,"color":"black","opacity":1},
 "encoding":{
  "x":{"field":"x","type":"quantitative","scale":{"domain":[0.2488,3.7293],"nice":false,"zero":false},
   "axis":{"orient":"bottom","values":[0.5,1,1.5,2,2.5,3,3.5],"format":".1f","tickSize":-20,"labelPadding":38,"labelFont":"DejaVu Sans","labelFontSize":22,"labelFlush":false,"domain":true,"title":"V−I","titleFont":"Liberation Serif","titleFontSize":23,"titleFontWeight":"normal","titlePadding":1}},
  "y":{"field":"y","type":"quantitative","scale":{"domain":[0,820],"nice":false,"zero":false},
   "axis":{"orient":"left","values":[0,200,400,600,800],"tickSize":-20,"labelPadding":29,"labelFont":"DejaVu Sans","labelFontSize":22,"labelFlush":false,"labelOffset":{"condition":{"test":"datum.value == 0","value":-6},"value":0},"domain":true,"title":"EW(Li) [mÅ]","titleFont":"DejaVu Serif","titleFontSize":26,"titleFontWeight":"normal","titlePadding":12,"titleY":522}}}},
{"data":{"name":"pts"},
 "transform":[{"filter":"datum.r == 1"}],
 "mark":{"type":"point","shape":"square","filled":false,"size":216,"stroke":"#ff0000","strokeWidth":1.8,"opacity":0.9},
 "encoding":{
  "x":{"field":"x","type":"quantitative","scale":{"domain":[0.2488,3.7293],"nice":false,"zero":false},
   "axis":{"orient":"bottom","values":[0.3,0.4,0.6,0.7,0.8,0.9,1.1,1.2,1.3,1.4,1.6,1.7,1.8,1.9,2.1,2.2,2.3,2.4,2.6,2.7,2.8,2.9,3.1,3.2,3.3,3.4,3.6,3.7],"tickSize":-10,"labels":false,"domain":false,"title":null}},
  "y":{"field":"y","type":"quantitative","scale":{"domain":[0,820],"nice":false,"zero":false},
   "axis":{"orient":"left","values":[50,100,150,250,300,350,450,500,550,650,700,750],"tickSize":-10,"labels":false,"domain":false,"title":null}}}},
{"data":{"name":"lines"},
 "transform":[{"filter":"datum.g == 'yl'"}],
 "mark":{"type":"line","color":"#000000","strokeWidth":6,"opacity":0.12,"xOffset":2,"yOffset":4},
 "encoding":{
  "x":{"field":"x","type":"quantitative","scale":{"domain":[0.2488,3.7293],"nice":false,"zero":false},
   "axis":{"orient":"top","values":[0.5,1,1.5,2,2.5,3,3.5],"tickSize":-20,"labels":false,"domain":true,"title":null}},
  "y":{"field":"y","type":"quantitative","scale":{"domain":[0,820],"nice":false,"zero":false},
   "axis":{"orient":"right","values":[0,200,400,600,800],"tickSize":-20,"labels":false,"domain":false,"title":null}},
  "detail":{"field":"g"},"order":{"field":"k"}}},
{"data":{"name":"lines"},
 "transform":[{"filter":"datum.g == 'yl'"}],
 "mark":{"type":"line","color":"#ffff00","strokeWidth":5},
 "encoding":{
  "x":{"field":"x","type":"quantitative","scale":{"domain":[0.2488,3.7293],"nice":false,"zero":false},
   "axis":{"orient":"top","values":[0.3,0.4,0.6,0.7,0.8,0.9,1.1,1.2,1.3,1.4,1.6,1.7,1.8,1.9,2.1,2.2,2.3,2.4,2.6,2.7,2.8,2.9,3.1,3.2,3.3,3.4,3.6,3.7],"tickSize":-10,"labels":false,"domain":false,"title":null}},
  "y":{"field":"y","type":"quantitative","scale":{"domain":[0,820],"nice":false,"zero":false},
   "axis":{"orient":"right","values":[50,100,150,250,300,350,450,500,550,650,700,750],"tickSize":-10,"labels":false,"domain":false,"title":null}},
  "detail":{"field":"g"},"order":{"field":"k"}}},
{"data":{"name":"ring"},
 "mark":{"type":"point","shape":"circle","filled":false,"size":36500,"stroke":"#000000","strokeWidth":9,"opacity":0.12,"xOffset":2,"yOffset":4},
 "encoding":{
  "x":{"field":"x","type":"quantitative","scale":{"domain":[0.2488,3.7293],"nice":false,"zero":false},"axis":null},
  "y":{"field":"y","type":"quantitative","scale":{"domain":[0,820],"nice":false,"zero":false},"axis":null}}},
{"data":{"name":"ring"},
 "mark":{"type":"point","shape":"circle","filled":false,"size":36500,"stroke":"#ff2a00","strokeWidth":9,"opacity":1},
 "encoding":{
  "x":{"field":"x","type":"quantitative","scale":{"domain":[0.2488,3.7293],"nice":false,"zero":false},"axis":null},
  "y":{"field":"y","type":"quantitative","scale":{"domain":[0,820],"nice":false,"zero":false},"axis":null}}},
{"data":{"name":"lines"},
 "transform":[{"filter":"datum.g != 'yl'"}],
 "mark":{"type":"line","color":"#000000","strokeWidth":9,"opacity":0.12,"xOffset":2,"yOffset":4,"strokeJoin":"miter"},
 "encoding":{
  "x":{"field":"x","type":"quantitative","scale":{"domain":[0.2488,3.7293],"nice":false,"zero":false},"axis":null},
  "y":{"field":"y","type":"quantitative","scale":{"domain":[0,820],"nice":false,"zero":false},"axis":null},
  "detail":{"field":"g"},"order":{"field":"k"}}},
{"data":{"name":"lines"},
 "transform":[{"filter":"datum.g != 'yl'"}],
 "mark":{"type":"line","color":"#ff2a00","strokeWidth":8.5,"strokeJoin":"miter"},
 "encoding":{
  "x":{"field":"x","type":"quantitative","scale":{"domain":[0.2488,3.7293],"nice":false,"zero":false},"axis":null},
  "y":{"field":"y","type":"quantitative","scale":{"domain":[0,820],"nice":false,"zero":false},"axis":null},
  "detail":{"field":"g"},"order":{"field":"k"}}},
{"data":{"name":"arrow"},
 "mark":{"type":"area","color":"#ffff00","stroke":"#5b8ac8","strokeWidth":1.5,"opacity":1},
 "encoding":{
  "x":{"field":"x","type":"quantitative","scale":{"domain":[0.2488,3.7293],"nice":false,"zero":false},"axis":null},
  "y":{"field":"y","type":"quantitative","scale":{"domain":[0,820],"nice":false,"zero":false},"axis":null},
  "y2":{"field":"y2"}}},
{"data":{"name":"note"},
 "mark":{"type":"text","font":"Lato","fontWeight":"bold","fontSize":45,"align":"center","baseline":"alphabetic","color":"black"},
 "encoding":{
  "x":{"field":"x","type":"quantitative","scale":{"domain":[0.2488,3.7293],"nice":false,"zero":false},"axis":null},
  "y":{"field":"y","type":"quantitative","scale":{"domain":[0,820],"nice":false,"zero":false},"axis":null},
  "text":{"field":"t"}}}
]
}
